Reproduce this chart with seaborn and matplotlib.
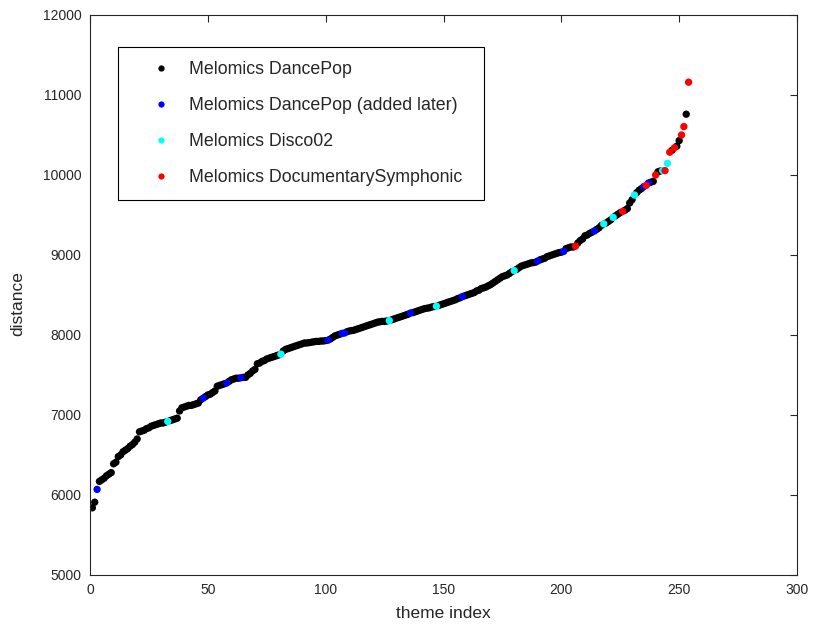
import matplotlib
matplotlib.use("Agg")
import matplotlib.pyplot as plt
import seaborn as sns
import pandas as pd
from matplotlib.lines import Line2D

distance = [
    5840, 5910, 6070, 6170, 6190, 6210, 6240, 6260, 6280, 6390,
    6410, 6480, 6500, 6540, 6560, 6580, 6610, 6630, 6660, 6700,
    6790, 6800, 6810, 6830, 6840, 6860, 6870, 6880, 6890, 6900,
    6900, 6910, 6920, 6930, 6940, 6950, 6960, 7050, 7090, 7100,
    7110, 7120, 7120, 7130, 7140, 7150, 7190, 7210, 7230, 7250,
    7260, 7280, 7300, 7360, 7370, 7380, 7390, 7400, 7420, 7440,
    7450, 7460, 7460, 7465, 7470, 7470, 7500, 7520, 7550, 7570,
    7640, 7650, 7670, 7680, 7700, 7710, 7720, 7730, 7740, 7750,
    7760, 7800, 7820, 7830, 7840, 7850, 7860, 7870, 7880, 7890,
    7900, 7900, 7905, 7910, 7915, 7920, 7920, 7925, 7925, 7930,
    7935, 7950, 7970, 7990, 8000, 8010, 8020, 8025, 8040, 8050,
    8055, 8060, 8070, 8080, 8090, 8100, 8110, 8120, 8130, 8140,
    8150, 8160, 8165, 8170, 8170, 8175, 8180, 8190, 8200, 8210,
    8220, 8230, 8240, 8250, 8260, 8275, 8280, 8290, 8300, 8310,
    8320, 8330, 8335, 8340, 8350, 8355, 8360, 8370, 8380, 8390,
    8400, 8410, 8420, 8430, 8440, 8455, 8465, 8480, 8490, 8500,
    8510, 8520, 8530, 8550, 8560, 8580, 8590, 8600, 8615, 8630,
    8650, 8670, 8690, 8710, 8730, 8740, 8750, 8770, 8790, 8805,
    8820, 8840, 8860, 8870, 8880, 8890, 8900, 8905, 8910, 8925,
    8940, 8950, 8960, 8980, 8990, 9000, 9010, 9020, 9030, 9035,
    9045, 9080, 9090, 9100, 9100, 9110, 9150, 9180, 9200, 9240,
    9250, 9270, 9285, 9300, 9320, 9340, 9370, 9390, 9400, 9420,
    9440, 9470, 9490, 9510, 9530, 9545, 9560, 9580, 9650, 9690,
    9750, 9780, 9810, 9830, 9855, 9870, 9900, 9910, 9920, 10000,
    10040, 10050, 10055, 10055, 10145, 10285, 10310, 10340, 10360, 10430,
    10500, 10605, 10760, 11160,
]

categories = [
    "Melomics DancePop",
    "Melomics DancePop (added later)",
    "Melomics Disco02",
    "Melomics DocumentarySymphonic",
]
colors = ["#000000", "#0000ff", "#00ffff", "#ff0000"]

added_later_idx = [3, 48, 58, 64, 101, 107, 108, 136, 158, 190, 201, 214, 235, 237]
disco_idx = [33, 81, 127, 147, 180, 218, 222, 231, 243, 245]
documentary_idx = [206, 226, 236, 240, 244, 246, 248, 251, 252, 254]

theme_index = list(range(1, len(distance) + 1))
group = []
for i in theme_index:
    if i in added_later_idx:
        group.append(categories[1])
    elif i in disco_idx:
        group.append(categories[2])
    elif i in documentary_idx:
        group.append(categories[3])
    else:
        group.append(categories[0])

df = pd.DataFrame({"theme index": theme_index, "distance": distance, "group": group})
df["order"] = df["group"].map({c: k for k, c in enumerate(categories)})
df = df.sort_values(["order", "theme index"], kind="stable")

sns.set_style("white")
plt.rcParams["font.family"] = ["Liberation Sans", "DejaVu Sans"]

fig = plt.figure(figsize=(8.14, 6.26), dpi=100)
ax = fig.add_axes([90 / 814, 51 / 626, 707 / 814, 560 / 626])

sns.scatterplot(data=df, x="theme index", y="distance", hue="group",
                hue_order=categories, palette=dict(zip(categories, colors)),
                s=28, linewidth=0, edgecolor="none", ax=ax, legend=False)

ax.set_xlim(0, 300)
ax.set_ylim(5000, 12000)
ax.set_xticks(range(0, 301, 50))
ax.set_yticks(range(5000, 12001, 1000))
axc = "#262626"
for sp in ax.spines.values():
    sp.set_visible(True)
    sp.set_color(axc)
    sp.set_linewidth(0.8)
ax.tick_params(direction="in", length=5, width=0.8, colors=axc,
               labelsize=10, top=True, right=True, pad=6)
ax.set_xlabel("theme index", fontsize=12.5, color=axc, labelpad=6)
ax.set_ylabel("distance", fontsize=12.5, color=axc)
ax.yaxis.set_label_coords(-0.092, 0.485)

handles = [Line2D([0], [0], marker="o", linestyle="none", markersize=4.5,
                  markerfacecolor=c, markeredgecolor="none") for c in colors]
leg = ax.legend(handles, categories, loc="upper left",
                bbox_to_anchor=(28 / 707, 528 / 560, 366 / 707, 0.0),
                mode="expand", borderaxespad=0, fontsize=12.8,
                frameon=True, fancybox=False, framealpha=1,
                borderpad=0.78, handlelength=3.3, handletextpad=-0.1,
                labelspacing=1.08)
leg.get_frame().set_edgecolor("#000000")
leg.get_frame().set_linewidth(0.8)

fig.savefig("out.png", dpi=100)
